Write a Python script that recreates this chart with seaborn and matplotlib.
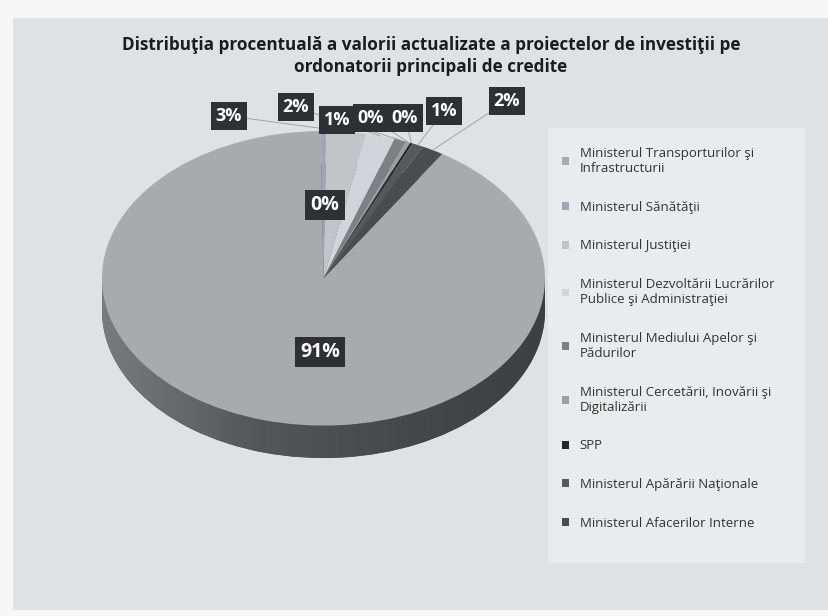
import matplotlib
matplotlib.use("Agg")
import matplotlib.pyplot as plt
import matplotlib.colors as mcolors
from matplotlib.patches import Rectangle
import numpy as np
import seaborn as sns

sns.set_theme(style="white")
plt.rcParams["font.family"] = ["Open Sans", "DejaVu Sans"]

# Ordonatori principali de credite și ponderea lor în valoarea actualizată
ordonatori = [
    "Ministerul Transporturilor şi\nInfrastructurii",
    "Ministerul Sănătăţii",
    "Ministerul Justiţiei",
    "Ministerul Dezvoltării Lucrărilor\nPublice şi Administraţiei",
    "Ministerul Mediului Apelor şi\nPădurilor",
    "Ministerul Cercetării, Inovării şi\nDigitalizării",
    "SPP",
    "Ministerul Apărării Naţionale",
    "Ministerul Afacerilor Interne",
]
ponderi = [90.8, 0.4, 2.9, 2.1, 0.9, 0.3, 0.2, 0.8, 1.6]

culori = ["#a9aaad", "#a6a3b8", "#c3c4c8", "#d3d4d9", "#7f8083",
          "#9d9ea1", "#26262e", "#56585a", "#4a4c4e"]

W, H = 829, 616
fig = plt.figure(figsize=(W / 100, H / 100), dpi=100)
fig.patch.set_facecolor("#f7f7f7")


def px(x, y):
    """image pixel (top-left origin) -> figure fraction"""
    return x / W, 1 - y / H


# chart area and legend area backgrounds
fig.add_artist(Rectangle(px(13, 610), (W - 13) / W, (610 - 18) / H,
                         transform=fig.transFigure, facecolor="#dfe1e5",
                         edgecolor="none", zorder=0))
fig.add_artist(Rectangle(px(548, 563), (805 - 548) / W, (563 - 128) / H,
                         transform=fig.transFigure, facecolor="#e9ebee",
                         edgecolor="none", zorder=0))

# tilted pie: top surface + darker side wall
depth = 0.22
left, top, right, bottom = 102, 131, 545, 458
ax = fig.add_axes([left / W, 1 - bottom / H, (right - left) / W, (bottom - top) / H])
ax.set_facecolor("none")

culori_lateral = [tuple(np.array(mcolors.to_rgb(c)) * 0.52) for c in culori]
lateral, _ = ax.pie(ponderi, colors=culori_lateral, startangle=57.6,
                    counterclock=False, center=(0, -depth),
                    wedgeprops=dict(linewidth=0), frame=False)
perete = Rectangle((-1, -depth), 2, depth, facecolor=culori_lateral[0],
                   edgecolor="none", zorder=0.5)
ax.add_patch(perete)

# light-to-dark shading along the side wall
umbra = mcolors.LinearSegmentedColormap.from_list(
    "umbra", ["#7a7b7e", "#55575a", "#46484b", "#3d3f42"])
grad = np.linspace(0, 1, 256)[None, :]
for clip in (lateral[0], perete):
    im = ax.imshow(grad, extent=(-1, 1, -1 - depth, 0), cmap=umbra,
                   aspect="auto", zorder=1, interpolation="bilinear")
    im.set_clip_path(clip)

wedges, _ = ax.pie(ponderi, colors=culori, startangle=57.6, counterclock=False,
                   wedgeprops=dict(linewidth=0), frame=False)
for w in wedges:
    w.set_zorder(2)
ax.set_aspect("auto")
ax.set_xlim(-1, 1)
ax.set_ylim(-1 - depth, 1)
ax.axis("off")

# percentage labels
pozitii = [(320, 352), (325, 205), (229, 116), (296, 107), (337, 120),
           (371, 118), (405, 118), (444, 111), (507, 101)]
box = dict(boxstyle="square,pad=0.28", facecolor="#2f3033", edgecolor="none")
for i, (w, v) in enumerate(zip(wedges, ponderi)):
    x, y = pozitii[i]
    xt, yt = x, H - y
    text = f"{v:.0f}%"
    if i < 2:
        ax.annotate(text, xy=(xt, yt), xycoords="figure pixels",
                    ha="center", va="center", color="white",
                    fontsize=14, fontweight="bold", bbox=box, zorder=5)
    else:
        th = np.deg2rad((w.theta1 + w.theta2) / 2)
        ax.annotate(text, xy=(np.cos(th), np.sin(th)), xycoords="data",
                    xytext=(xt, yt), textcoords="figure pixels",
                    ha="center", va="center", color="white",
                    fontsize=13, fontweight="bold", bbox=box, zorder=5,
                    arrowprops=dict(arrowstyle="-", color="#9a9a9a", lw=0.6,
                                    shrinkA=0, shrinkB=0))

# title
fig.text(431 / W, 1 - 56 / H,
         "Distribuţia procentuală a valorii actualizate a proiectelor de investiţii pe\n"
         "ordonatorii principali de credite",
         ha="center", va="center", fontsize=12.3, fontweight="bold",
         color="#1c1c1c", linespacing=1.25)

# legend
leg = fig.legend(wedges, ordonatori, loc="upper left",
                 bbox_to_anchor=px(562, 147), frameon=False,
                 fontsize=9.5, handlelength=0.55, handleheight=0.55,
                 handletextpad=0.8, labelspacing=1.95, borderaxespad=0,
                 borderpad=0)
for t in leg.get_texts():
    t.set_color("#333333")

fig.savefig("out.png", dpi=100, facecolor=fig.get_facecolor())
